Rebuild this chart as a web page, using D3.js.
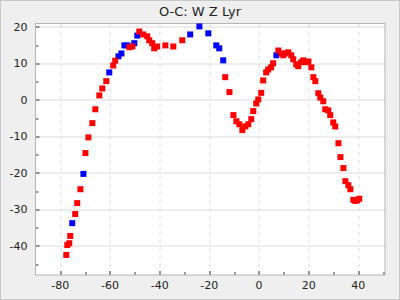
<!DOCTYPE html>
<html>
<head>
<meta charset="utf-8">
<script src="https://cdn.jsdelivr.net/npm/d3@7"></script>
<style>
  body { margin: 0; background: #fff; }
  svg { display: block; font-family: "DejaVu Sans", sans-serif; }
</style>
</head>
<body>
<div id="chart"></div>
<script>
var title = "O-C: W Z Lyr";

// red points (x = cycle offset, y = O-C)
var redX = [-77.6,-77.2,-76.4,-76.0,-74.0,-73.2,-71.9,-69.9,-68.7,-67.1,-65.9,-64.3,-63.1,-61.5,-58.7,-57.9,-52.2,-51.0,-48.2,-46.6,-45.0,-44.2,-43.0,-42.2,-41.0,-37.7,-34.5,-30.9,-13.6,-11.9,-10.3,-9.1,-7.9,-6.7,-5.5,-4.3,-3.1,-2.3,-1.1,-0.3,0.9,1.7,2.9,3.7,4.9,5.7,7.8,9.0,9.8,10.6,11.8,13.0,13.8,15.0,15.8,17.0,17.8,19.1,19.9,21.1,21.9,22.7,23.9,24.7,25.9,26.7,27.9,28.7,29.9,30.7,32.0,32.8,34.0,34.8,36.0,36.8,38.0,38.8,39.6,40.4];
var redY = [-42.5,-39.8,-39.3,-37.3,-31.3,-28.3,-24.5,-14.6,-10.3,-6.4,-2.6,1.2,3.1,5.1,9.4,10.7,14.4,14.6,18.7,17.9,17.4,16.3,15.5,14.1,14.6,14.9,14.6,16.3,6.2,2.1,-4.2,-5.9,-6.7,-8.3,-7.3,-6.7,-5.3,-3.1,-1.0,0.1,1.9,5.3,7.5,8.3,8.9,10.0,13.5,12.7,12.2,12.7,13.0,12.2,11.1,9.7,9.2,10.3,10.8,10.3,10.5,8.9,6.2,5.1,1.8,0.6,-0.4,-2.6,-2.9,-4.2,-6.2,-7.3,-11.9,-15.7,-18.7,-22.3,-23.4,-24.5,-27.4,-27.7,-27.5,-27.1];

// blue points
var blueX = [-75.2,-70.7,-60.3,-56.6,-55.4,-54.2,-53.0,-50.2,-49.0,-27.7,-24.0,-20.4,-17.2,-16.0,-14.4,7.0];
var blueY = [-33.8,-20.3,7.5,11.9,12.7,14.9,14.9,15.5,17.6,17.9,20.1,18.2,14.9,14.1,10.8,12.2];

var xTicks = [-80,-60,-40,-20,0,20,40];
var xMinor = [-70,-50,-30,-10,10,30,50];
var yTicks = [-40,-30,-20,-10,0,10,20];
var yMinor = [-45,-35,-25,-15,-5,5,15];

var W = 400, H = 300;
var margin = { top: 23.5, right: 15, bottom: 25, left: 35.5 };
var width = W - margin.left - margin.right;
var height = H - margin.top - margin.bottom;

var svg = d3.select("#chart").append("svg")
    .attr("width", W)
    .attr("height", H);

svg.append("rect")
    .attr("x", 0.5).attr("y", 0.5)
    .attr("width", W - 1).attr("height", H - 1)
    .attr("fill", "#efefef")
    .attr("stroke", "#c8c8c8");

svg.append("text")
    .attr("x", W / 2)
    .attr("y", 16)
    .attr("text-anchor", "middle")
    .attr("font-size", 13)
    .attr("fill", "#222")
    .text(title);

var g = svg.append("g")
    .attr("transform", "translate(" + margin.left + "," + margin.top + ")");

var x = d3.scaleLinear().domain([-90, 50.75]).range([0, width]);
var y = d3.scaleLinear().domain([-48, 20.9]).range([height, 0]);

g.append("rect")
    .attr("width", width)
    .attr("height", height)
    .attr("fill", "#fff");

// grid
g.selectAll(".hgrid").data(yTicks).enter().append("line")
    .attr("x1", 0).attr("x2", width)
    .attr("y1", function(d){ return Math.round(y(d)) + 0.5; })
    .attr("y2", function(d){ return Math.round(y(d)) + 0.5; })
    .attr("stroke", "#dcdcdc");

g.selectAll(".vgrid").data(xTicks).enter().append("line")
    .attr("y1", 0).attr("y2", height)
    .attr("x1", function(d){ return Math.round(x(d)) + 0.5; })
    .attr("x2", function(d){ return Math.round(x(d)) + 0.5; })
    .attr("stroke", "#dcdcdc")
    .attr("stroke-dasharray", "4,4");

// ticks (inside)
var tickCol = "#333";
g.selectAll(".ytick").data(yTicks).enter().append("line")
    .attr("x1", 0).attr("x2", 4)
    .attr("y1", function(d){ return Math.round(y(d)) + 0.5; })
    .attr("y2", function(d){ return Math.round(y(d)) + 0.5; })
    .attr("stroke", tickCol);
g.selectAll(".yminor").data(yMinor).enter().append("line")
    .attr("x1", 0).attr("x2", 3)
    .attr("y1", function(d){ return Math.round(y(d)) + 0.5; })
    .attr("y2", function(d){ return Math.round(y(d)) + 0.5; })
    .attr("stroke", tickCol);
g.selectAll(".xtick").data(xTicks).enter().append("line")
    .attr("y1", height).attr("y2", height - 4)
    .attr("x1", function(d){ return Math.round(x(d)) + 0.5; })
    .attr("x2", function(d){ return Math.round(x(d)) + 0.5; })
    .attr("stroke", tickCol);
g.selectAll(".xminor").data(xMinor).enter().append("line")
    .attr("y1", height).attr("y2", height - 3)
    .attr("x1", function(d){ return Math.round(x(d)) + 0.5; })
    .attr("x2", function(d){ return Math.round(x(d)) + 0.5; })
    .attr("stroke", tickCol);

// tick labels
g.selectAll(".ylab").data(yTicks).enter().append("text")
    .attr("x", -8)
    .attr("y", function(d){ return y(d); })
    .attr("dy", "0.35em")
    .attr("text-anchor", "end")
    .attr("font-size", 11)
    .attr("fill", "#222")
    .text(function(d){ return d; });

g.selectAll(".xlab").data(xTicks).enter().append("text")
    .attr("x", function(d){ return x(d); })
    .attr("y", height + 14)
    .attr("text-anchor", "middle")
    .attr("font-size", 11)
    .attr("fill", "#222")
    .text(function(d){ return d; });

// frame
g.append("rect")
    .attr("width", width)
    .attr("height", height)
    .attr("fill", "none")
    .attr("stroke", "#b4b4b4");

// points
var s = 6;
function drawPoints(xs, ys, col) {
    var pts = xs.map(function(d, i){ return { x: d, y: ys[i] }; });
    g.append("g").selectAll("rect").data(pts).enter().append("rect")
        .attr("x", function(d){ return x(d.x) - s / 2; })
        .attr("y", function(d){ return y(d.y) - s / 2; })
        .attr("width", s)
        .attr("height", s)
        .attr("fill", col);
}
drawPoints(blueX, blueY, "#0000ff");
drawPoints(redX, redY, "#ff0000");
</script>
</body>
</html>
